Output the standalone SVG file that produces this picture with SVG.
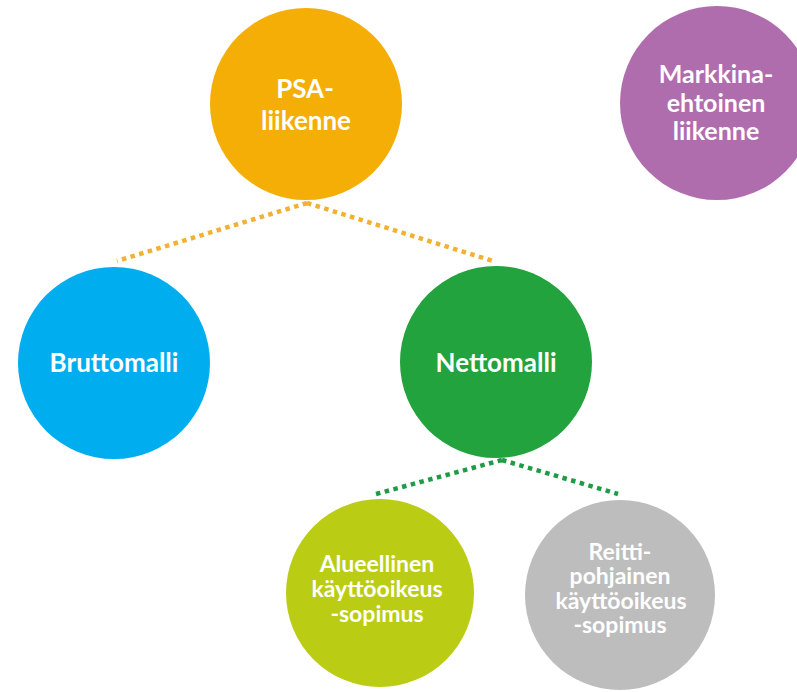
<svg xmlns="http://www.w3.org/2000/svg" width="797" height="692" viewBox="0 0 797 692">
  <style>
    .bg { fill: #ffffff; }
    .lbl { font-family: Lato, "Open Sans", "Liberation Sans", sans-serif; font-weight: 700; fill: #ffffff; text-anchor: middle; }
    .big { font-size: 26px; }
    .mid { font-size: 25px; }
    .small { font-size: 23px; }
    .dot { fill: none; stroke-width: 4.5; stroke-dasharray: 4.5 4.5; stroke-linecap: butt; }
    .dot-orange { stroke: #F2B12E; }
    .dot-green { stroke: #1F9B45; }
  </style>
  <rect class="bg" x="0" y="0" width="797" height="692"/>

  <!-- dotted connectors -->
  <g id="connectors">
    <path class="dot dot-orange" d="M307,203 L117,261"/>
    <path class="dot dot-orange" d="M307,203 L493,261"/>
    <path class="dot dot-green" d="M502,460 L376,494"/>
    <path class="dot dot-green" d="M502,460 L618,494"/>
  </g>

  <g id="psa">
    <circle cx="306" cy="104" r="96" fill="#F4AE06"/>
    <text class="lbl big" x="305" y="98">PSA-</text>
    <text class="lbl big" x="306" y="130">liikenne</text>
  </g>

  <g id="markkina">
    <circle cx="717" cy="103" r="97" fill="#B06DAE"/>
    <text class="lbl mid" x="716" y="83">Markkina-</text>
    <text class="lbl mid" x="716" y="112">ehtoinen</text>
    <text class="lbl mid" x="716" y="140">liikenne</text>
  </g>

  <g id="brutto">
    <circle cx="114" cy="363" r="96" fill="#00AEEF"/>
    <text class="lbl big" x="114" y="372">Bruttomalli</text>
  </g>

  <g id="netto">
    <circle cx="496" cy="362" r="96" fill="#22A33E"/>
    <text class="lbl big" x="496" y="372">Nettomalli</text>
  </g>

  <g id="alueellinen">
    <circle cx="380" cy="593" r="94" fill="#BACD14"/>
    <text class="lbl small" x="377" y="572">Alueellinen</text>
    <text class="lbl small" x="377" y="597">käyttöoikeus</text>
    <text class="lbl small" x="377" y="622">-sopimus</text>
  </g>

  <g id="reitti">
    <circle cx="620" cy="595" r="95" fill="#BDBDBD"/>
    <text class="lbl small" x="620" y="560">Reitti-</text>
    <text class="lbl small" x="620" y="584">pohjainen</text>
    <text class="lbl small" x="621" y="609">käyttöoikeus</text>
    <text class="lbl small" x="620" y="633">-sopimus</text>
  </g>
</svg>
